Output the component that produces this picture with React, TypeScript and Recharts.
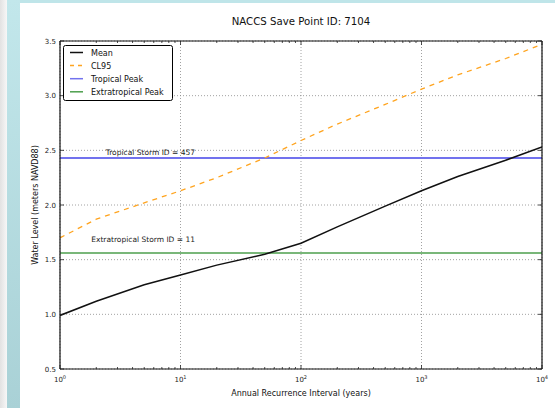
import React from 'react';
import { LineChart, Line, XAxis, YAxis, CartesianGrid, ReferenceLine, Legend, Customized } from 'recharts';

// ---- data ----
const returnPeriods = [1, 2, 5, 10, 20, 50, 100, 200, 500, 1000, 2000, 5000, 10000];
const meanLevels = [0.99, 1.12, 1.27, 1.36, 1.45, 1.55, 1.65, 1.8, 1.99, 2.13, 2.26, 2.41, 2.53];
const cl95Levels = [1.7, 1.87, 2.02, 2.13, 2.25, 2.43, 2.59, 2.74, 2.92, 3.06, 3.19, 3.34, 3.47];
const tropicalPeak = 2.43;
const extratropicalPeak = 1.56;
const tropicalStormId = 457;
const extratropicalStormId = 11;
const xMajorTicks = [1, 10, 100, 1000, 10000];
const xMinorTicks = [
  2, 3, 4, 5, 6, 7, 8, 9,
  20, 30, 40, 50, 60, 70, 80, 90,
  200, 300, 400, 500, 600, 700, 800, 900,
  2000, 3000, 4000, 5000, 6000, 7000, 8000, 9000,
];
const yTicks = [0.5, 1.0, 1.5, 2.0, 2.5, 3.0, 3.5];
const legendNames = ['Mean', 'CL95', 'Tropical Peak', 'Extratropical Peak'];
const titleText = 'NACCS Save Point ID: 7104';
const xTitle = 'Annual Recurrence Interval (years)';
const yTitle = 'Water Level (meters NAVD88)';

const rows = returnPeriods.map((rp, i) => ({ rp, mean: meanLevels[i], cl95: cl95Levels[i] }));
const xAllTicks = [...xMajorTicks, ...xMinorTicks].sort((a, b) => a - b);

// ---- styles ----
const FONT = 'DejaVu Sans, sans-serif';
const C_MEAN = '#111111';
const C_CL95 = '#ffa41f';
const C_TROP = '#7272ee';
const C_EXTRA = '#4c9f4c';
const C_TICK = '#222222';
const legendColors = [C_MEAN, C_CL95, C_TROP, C_EXTRA];
const legendDash = [undefined, '4 4', undefined, undefined];

const W = 555;
const H = 408;
const M = { top: 40, right: 12, bottom: 9, left: 20 };
const Y_AXIS_W = 40;
const X_AXIS_H = 30;
const plotLeft = M.left + Y_AXIS_W;
const plotRight = W - M.right - 1;
const plotTop = M.top + 1;
const plotBottom = H - M.bottom - X_AXIS_H;

const isMajor = (v: number) => xMajorTicks.includes(v);

const BottomTick = (props: any) => {
  const { x, y, payload } = props;
  const v = payload.value;
  const major = isMajor(v);
  const exp = Math.round(Math.log10(v));
  return (
    <g>
      <line x1={x} x2={x} y1={y} y2={y - (major ? 4 : 2)} stroke={C_TICK} strokeWidth={0.8} />
      {major && (
        <text x={x} y={y + 13} textAnchor="middle" fontFamily={FONT} fontSize={7} fill="#222">
          <tspan>10</tspan>
          <tspan dy={-3.5} fontSize={5}>{exp}</tspan>
        </text>
      )}
    </g>
  );
};

const TopTick = (props: any) => {
  const { x, y, payload } = props;
  const major = isMajor(payload.value);
  return <line x1={x} x2={x} y1={y} y2={y + (major ? 4 : 2)} stroke={C_TICK} strokeWidth={0.8} />;
};

const LeftTick = (props: any) => {
  const { x, y, payload } = props;
  return (
    <g>
      <line x1={x} x2={x + 4} y1={y} y2={y} stroke={C_TICK} strokeWidth={0.8} />
      <text x={x - 4} y={y + 2.5} textAnchor="end" fontFamily={FONT} fontSize={7} fill="#222">
        {Number(payload.value).toFixed(1)}
      </text>
    </g>
  );
};

const RightTick = (props: any) => {
  const { x, y } = props;
  return <line x1={x} x2={x - 4} y1={y} y2={y} stroke={C_TICK} strokeWidth={0.8} />;
};

const peakLabel = (text: string, dy: number) => (props: any) => {
  const vb = props.viewBox || {};
  return (
    <text x={vb.x + 135} y={vb.y + dy} textAnchor="end" fontFamily={FONT} fontSize={7.5} fill="#222">
      {text}
    </text>
  );
};

const LegendBox = () => (
  <svg width={110} height={56} style={{ display: 'block' }}>
    <rect x={0.5} y={0.5} width={109} height={55} rx={2} fill="#fff" stroke="#000" strokeWidth={1} />
    {legendNames.map((name, i) => {
      const cy = 7.5 + i * 13.1;
      return (
        <g key={name}>
          <line x1={7} x2={20} y1={cy} y2={cy} stroke={legendColors[i]} strokeWidth={1.5} strokeDasharray={legendDash[i]} />
          <text x={28} y={cy + 3} fontFamily={FONT} fontSize={8} fill="#111">{name}</text>
        </g>
      );
    })}
  </svg>
);

const Texts = () => (
  <g>
    <text x={(plotLeft + plotRight) / 2} y={25} textAnchor="middle" fontFamily={FONT} fontSize={10.2} fill="#111">
      {titleText}
    </text>
    <text x={(plotLeft + plotRight) / 2} y={396} textAnchor="middle" fontFamily={FONT} fontSize={8} fill="#111">
      {xTitle}
    </text>
    <text
      x={38}
      y={(plotTop + plotBottom) / 2}
      textAnchor="middle"
      fontFamily={FONT}
      fontSize={8}
      fill="#111"
      transform={`rotate(-90 38 ${(plotTop + plotBottom) / 2})`}
    >
      {yTitle}
    </text>
  </g>
);

const frameLine = { stroke: '#111', strokeWidth: 1.2 };

export default function App() {
  return (
    <div style={{ position: 'fixed', left: 0, top: 0, width: W, height: H, background: '#bfe5e9', overflow: 'hidden' }}>
      <div style={{ position: 'absolute', left: 0, top: 0, width: 7, height: H, background: 'linear-gradient(to right, #e2e2e2, #f7f7f7)' }} />
      <div style={{ position: 'absolute', left: 7, top: 0, width: 13, height: H, background: 'linear-gradient(to bottom, #c2e7eb, #a9d1d6)' }} />
      <div style={{ position: 'absolute', left: 20, top: 3, width: W - 20, height: H - 3, background: '#ffffff' }} />
      <div style={{ position: 'absolute', left: 0, top: 0 }}>
        <LineChart width={W} height={H} data={rows} margin={M}>
          <XAxis xAxisId="top" orientation="top" dataKey="rp" type="number" scale="log" domain={[1, 10000]} allowDataOverflow
            ticks={xAllTicks} height={1} axisLine={frameLine} tickSize={0} tickMargin={0} tickLine={false} tick={TopTick} interval={0} />
          <XAxis xAxisId="main" orientation="bottom" dataKey="rp" type="number" scale="log" domain={[1, 10000]} allowDataOverflow
            ticks={xAllTicks} height={X_AXIS_H} axisLine={frameLine} tickSize={0} tickMargin={0} tickLine={false}
            tick={BottomTick} interval={0} />
          <YAxis yAxisId="left" orientation="left" type="number" domain={[0.5, 3.5]} allowDataOverflow ticks={yTicks} width={Y_AXIS_W}
            axisLine={frameLine} tickSize={0} tickMargin={0} tickLine={false} interval={0} tick={LeftTick} />
          <YAxis yAxisId="right" orientation="right" type="number" domain={[0.5, 3.5]} allowDataOverflow ticks={yTicks} width={1}
            axisLine={frameLine} tickSize={0} tickMargin={0} tickLine={false} tick={RightTick} interval={0} />
          <CartesianGrid xAxisId="main" yAxisId="left" stroke="#8a8a8a" strokeDasharray="1 2" strokeWidth={0.8}
            verticalPoints={undefined} verticalValues={xMajorTicks} />
          <ReferenceLine xAxisId="main" yAxisId="left" y={tropicalPeak} stroke={C_TROP} strokeWidth={1.8}
            label={peakLabel(`Tropical Storm ID = ${tropicalStormId}`, -3)} ifOverflow="visible" />
          <ReferenceLine xAxisId="main" yAxisId="left" y={extratropicalPeak} stroke={C_EXTRA} strokeWidth={1.5}
            label={peakLabel(`Extratropical Storm ID = ${extratropicalStormId}`, -11.5)} ifOverflow="visible" />
          <Line xAxisId="main" yAxisId="left" type="linear" dataKey="cl95" stroke={C_CL95} strokeWidth={1.3} strokeDasharray="5 5"
            dot={false} isAnimationActive={false} />
          <Line xAxisId="main" yAxisId="left" type="linear" dataKey="mean" stroke={C_MEAN} strokeWidth={1.5}
            dot={false} isAnimationActive={false} />
          <Legend layout="vertical" verticalAlign="middle" align="center" content={LegendBox}
            wrapperStyle={{ left: 63, top: 45, width: 110, height: 56 }} />
          <Customized component={Texts} />
        </LineChart>
      </div>
    </div>
  );
}
